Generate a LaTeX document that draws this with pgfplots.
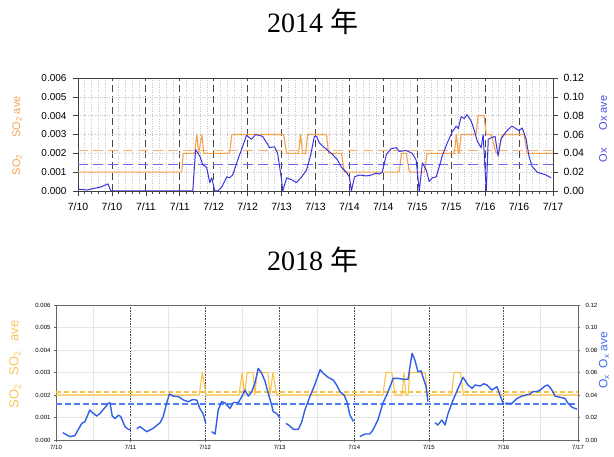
\documentclass[border=0pt]{standalone}
\usepackage{fontspec}
\setmainfont{Liberation Sans}
\newfontfamily\titleserif{Liberation Serif}
\newfontfamily\cjk{Noto Sans CJK JP}
\usepackage{pgfplots}
\pgfplotsset{compat=1.18}

\definecolor{or14}{HTML}{F4A24C}
\definecolor{bl14}{HTML}{3A35E0}
\definecolor{bla14}{HTML}{6B6BF2}
\definecolor{ora14}{HTML}{F6B070}
\definecolor{or18}{HTML}{FAC146}
\definecolor{bl18}{HTML}{2F5FE8}
\definecolor{bla18}{HTML}{4F80F5}
\definecolor{lab14o}{HTML}{F2A455}
\definecolor{lab14b}{HTML}{4A4AE8}
\definecolor{lab18o}{HTML}{F7C35C}
\definecolor{lab18b}{HTML}{3B6BE8}

\pgfplotsset{
  /pgf/number format/assume math mode=true,
  top/.style={scale only axis, width=475pt, height=113pt, at={(78pt,265pt)}, anchor=south west,
    xmin=0, xmax=168, axis line style={black!75, line width=0.6pt},
    tick style={black!75, line width=0.6pt}, tick align=outside,
    major tick length=5pt, minor tick length=3pt, scaled y ticks=false},
  bot/.style={scale only axis, width=522pt, height=135pt, at={(56pt,16pt)}, anchor=south west,
    xmin=0, xmax=168, axis line style={black!60, line width=0.5pt},
    tick style={black!60, line width=0.4pt}, tick align=outside,
    major tick length=2pt, scaled y ticks=false},
}

\begin{document}
\begin{tikzpicture}
\useasboundingbox (0pt,0pt) rectangle (614pt,456pt);

% ---------------- 2014 ----------------
\begin{axis}[top, ymin=0, ymax=0.006,
  ytick={0,0.001,0.002,0.003,0.004,0.005,0.006},
  xtick={0,12,24,36,48,60,72,84,96,108,120,132,144,156,168},
  xticklabels={7/10,7/10,7/11,7/11,7/12,7/12,7/13,7/13,7/14,7/14,7/15,7/15,7/16,7/16,7/17},
  minor x tick num=4,
  xmajorgrids, xminorgrids, ymajorgrids,
  major x grid style={black!72, line width=0.8pt, dash pattern=on 7pt off 4pt},
  minor x grid style={gray!45, dotted, line width=0.6pt},
  major y grid style={gray!45, dotted, line width=0.6pt},
  xtick pos=bottom, ytick pos=left,
  yticklabel style={xshift=-3pt, font=\fontsize{10}{12}\selectfont, /pgf/number format/.cd, fixed, fixed zerofill, precision=3},
  xticklabel style={yshift=-3pt, font=\fontsize{10.5}{12}\selectfont},
]
\addplot[or14, line width=1.1pt, line join=round] coordinates {
(0,0.001)(36.7,0.001)(37.2,0.002)(41.3,0.002)(42.0,0.003)(42.7,0.002)(43.8,0.003)(44.5,0.002)
(53.6,0.002)(54.4,0.003)(72.7,0.003)(73.8,0.002)(78.0,0.002)(78.7,0.003)(79.4,0.002)(80.5,0.002)
(81.2,0.003)(87.9,0.003)(88.6,0.002)(93.2,0.002)(94.2,0.001)(113.6,0.001)(114.4,0.002)(116.1,0.002)
(117.2,0.001)(122.5,0.001)(123.5,0.002)(133.1,0.002)(133.8,0.003)(134.5,0.002)(134.8,0.002)
(135.5,0.003)(140.8,0.003)(141.5,0.004)(143.6,0.004)(144.4,0.003)(146.1,0.003)(147.9,0.002)
(148.6,0.002)(150.0,0.003)(157.8,0.003)(158.8,0.002)(168,0.002)};
\addplot[ora14, line width=1.1pt, dash pattern=on 10pt off 5pt] coordinates {(0,0.00216)(168,0.00216)};
\end{axis}

\begin{axis}[top, ymin=0, ymax=0.12, axis x line=none, axis y line*=right,
  ytick={0,0.02,0.04,0.06,0.08,0.10,0.12},
  yticklabel style={xshift=2pt, font=\fontsize{10.5}{12}\selectfont, /pgf/number format/.cd, fixed, fixed zerofill, precision=2},
]
\addplot[bla14, line width=1.1pt, dash pattern=on 10pt off 5pt] coordinates {(0,0.0286)(168,0.0286)};
\addplot[bl14, line width=1pt, line join=round] coordinates {
(0,0.002)(3.2,0.001)(6.0,0.003)(7.8,0.004)(10.6,0.0075)(11.6,0)(40.6,0)(41.6,0.044)(43.1,0.037)
(44.1,0.028)(45.5,0.025)(46.6,0.009)(47.3,0.014)(48.4,0)(49.4,0)(50.8,0.004)(52.6,0.015)(53.6,0.014)
(54.7,0.017)(56.5,0.033)(58.2,0.047)(59.6,0.059)(61.4,0.055)(62.8,0.06)(65.3,0.058)(67.8,0.046)
(69.5,0.047)(70.6,0.04)(72.0,0.012)(72.4,0)(73.8,0.014)(75.5,0.012)(77.3,0.009)(79.1,0.015)
(80.8,0.022)(82.2,0.037)(83.6,0.058)(84.4,0.058)(85.4,0.051)(87.2,0.046)(90.0,0.039)(91.8,0.033)
(93.2,0.025)(94.9,0.02)(96.0,0.015)(96.7,0)(97.8,0.015)(99.5,0.017)(102.0,0.016)(103.8,0.017)
(105.5,0.019)(106.6,0.018)(107.6,0.02)(109.1,0.039)(110.8,0.045)(112.6,0.046)(113.6,0.042)
(116.1,0.043)(118.2,0.04)(119.6,0.033)(120.7,0)(121.8,0.03)(123.2,0.022)(124.2,0.01)(125.3,0.014)
(126.7,0.015)(127.8,0.026)(128.8,0.037)(130.6,0.051)(132.4,0.063)(133.8,0.069)(134.5,0.066)
(135.5,0.079)(136.6,0.077)(137.6,0.081)(139.1,0.074)(140.1,0.065)(141.2,0.053)(142.6,0.046)
(143.3,0.06)(144.4,0)(145.1,0.055)(146.5,0.057)(147.5,0.058)(148.6,0.037)(149.6,0.055)(151.4,0.063)
(153.5,0.069)(156.0,0.064)(157.1,0.067)(158.5,0.055)(159.5,0.037)(160.6,0.026)(162.4,0.02)
(165.5,0.017)(167.3,0.014)};
\end{axis}

% ---------------- 2018 ----------------
\begin{axis}[bot, ymin=0, ymax=0.006,
  ytick={0,0.001,0.002,0.003,0.004,0.005,0.006},
  xtick={0,24,48,72,96,120,144,168},
  xticklabels={7/10,7/11,7/12,7/13,7/14,7/15,7/16,7/17},
  minor x tick num=1,
  xmajorgrids, xminorgrids, ymajorgrids,
  major x grid style={black!70, line width=0.6pt, densely dotted},
  minor x grid style={gray!20, line width=0.5pt},
  major y grid style={gray!20, line width=0.5pt},
  minor tick length=0pt,
  xtick pos=bottom, ytick pos=left,
  xticklabel style={font=\fontsize{6}{7}\selectfont},
  yticklabel style={font=\fontsize{6}{7}\selectfont, /pgf/number format/.cd, fixed, fixed zerofill, precision=3},
]
\addplot[or18, line width=1.1pt, line join=round] coordinates {
(0,0.002)(46.1,0.002)(47.1,0.003)(48.3,0.002)(58.9,0.002)(59.9,0.003)(60.7,0.002)(61.5,0.003)
(63.4,0.003)(64.0,0.002)(64.7,0.003)(68.2,0.003)(68.9,0.002)(69.8,0.003)(71.0,0.002)(105.2,0.002)
(106.2,0.003)(108.1,0.003)(109.1,0.002)(111.4,0.002)(112.0,0.003)(112.6,0.002)(113.3,0.002)
(113.9,0.003)(118.8,0.003)(119.5,0.002)(127.3,0.002)(128.1,0.003)(130.2,0.003)(131.1,0.002)(168,0.002)};
\addplot[or18, line width=1.3pt, dash pattern=on 5pt off 3pt] coordinates {(0,0.00213)(168,0.00213)};
\end{axis}

\begin{axis}[bot, ymin=0, ymax=0.12, axis x line=none, axis y line*=right,
  ytick={0,0.02,0.04,0.06,0.08,0.10,0.12},
  yticklabel style={xshift=2pt, font=\fontsize{6}{7}\selectfont, /pgf/number format/.cd, fixed, fixed zerofill, precision=2},
  unbounded coords=jump,
]
\addplot[bla18, line width=1.8pt, dash pattern=on 6pt off 3pt] coordinates {(0,0.0323)(168,0.0323)};
\addplot[draw=bl18, line width=1.4pt, line join=round] coordinates {
(2.2,0.0065)(4.5,0.003)(6.1,0.004)(8.3,0.0148)(9.3,0.0163)(10.9,0.0267)(12.0,0.0237)(13.1,0.0213)
(14.2,0.0237)(15.8,0.029)(16.8,0.0326)(17.4,0.033)(18.1,0.0213)(19.0,0.019)(20.1,0.022)(20.8,0.021)
(22.2,0.0119)(23.3,0.0095)(24.0,0.0089)
(25,nan)
(26.0,0.01)(27.0,0.0119)(29.2,0.0074)(31.3,0.0104)(33.5,0.0154)(34.5,0.0207)(35.6,0.0326)
(36.5,0.0409)(37.8,0.039)(39.4,0.0385)(41.0,0.0356)(42.6,0.034)(44.0,0.036)(45.3,0.0355)
(46.3,0.028)(47.4,0.023)(48.2,0.0148)
(49,nan)
(50.1,0.0074)(51.2,0.0053)(52.2,0.0267)(53.3,0.0341)(54.4,0.033)(56.0,0.0281)(57.1,0.0333)
(58.7,0.0333)(59.8,0.0385)(60.8,0.0444)(61.9,0.039)(63.0,0.043)(64.0,0.0504)(65.1,0.0637)
(66.2,0.0593)(67.3,0.052)(68.3,0.0415)(69.4,0.0311)(69.9,0.0252)(71.0,0.0237)(72.1,0.0193)
(73,nan)
(74.0,0.0148)(75.3,0.0124)(76.4,0.0095)(78.0,0.0095)(79.1,0.016)(80.1,0.0267)(81.7,0.0385)
(83.4,0.05)(85.0,0.0625)(86.0,0.0593)(87.6,0.0557)(89.2,0.0533)(90.3,0.049)(91.4,0.043)
(92.7,0.040)(93.6,0.0341)(94.6,0.0222)(95.7,0.0165)
(96.5,nan)
(97.8,0.003)(99.4,0.0053)(101.0,0.0053)(102.0,0.0089)(103.6,0.0178)(105.2,0.0326)(106.9,0.043)
(108.5,0.0548)(110.1,0.0548)(111.7,0.054)(113.3,0.054)(114.6,0.077)(115.5,0.071)(116.5,0.0607)
(117.5,0.0615)(118.1,0.056)(119.1,0.0474)(119.7,0.0341)
(121,nan)
(122.0,0.0154)(122.9,0.0133)(124.2,0.0178)(125.2,0.0133)(126.2,0.0237)(127.8,0.0356)(129.4,0.0459)
(131.0,0.0557)(132.6,0.0489)(133.9,0.0459)(134.9,0.0489)(136.5,0.048)(137.7,0.050)(138.7,0.0489)
(140.3,0.0444)(141.9,0.0474)(142.9,0.04)(143.9,0.0326)
(144.2,nan)
(144.5,0.0326)(146.8,0.0326)(148.4,0.037)(150.0,0.039)(152.6,0.0409)(153.5,0.043)(154.8,0.043)
(155.8,0.0444)(157.4,0.048)(158.3,0.0489)(159.6,0.0444)(160.6,0.039)(162.2,0.038)(163.8,0.037)
(164.8,0.0326)(166.1,0.0291)(167.7,0.0273)};
\end{axis}

% ---------------- titles and axis labels ----------------
\node[anchor=base, font=\fontsize{28}{30}\selectfont] at (312.5pt,423pt) {\titleserif 2014 {\cjk 年}};
\node[anchor=base, font=\fontsize{28}{30}\selectfont] at (312.5pt,185pt) {\titleserif 2018 {\cjk 年}};

\node[rotate=90, text=lab14o, font=\fontsize{11}{13}\selectfont] at (17pt,339pt) {SO\textsubscript{2} ave};
\node[rotate=90, text=lab14o, font=\fontsize{11}{13}\selectfont] at (17pt,291pt) {SO\textsubscript{2}};
\node[rotate=90, text=lab14b, font=\fontsize{11}{13}\selectfont] at (603pt,343pt) {Ox ave};
\node[rotate=90, text=lab14b, font=\fontsize{11}{13}\selectfont] at (603pt,301pt) {Ox};

\node[rotate=90, text=lab18o, font=\fontsize{13}{15}\selectfont] at (15pt,108pt) {SO\textsubscript{2}\hspace{10pt}ave};
\node[rotate=90, text=lab18o, font=\fontsize{13}{15}\selectfont] at (15pt,60pt) {SO\textsubscript{2}};
\node[rotate=90, text=lab18b, font=\fontsize{12}{14}\selectfont] at (604pt,106pt) {O\textsubscript{x} ave};
\node[rotate=90, text=lab18b, font=\fontsize{12}{14}\selectfont] at (604pt,74pt) {O\textsubscript{x}};
\end{tikzpicture}
\end{document}
